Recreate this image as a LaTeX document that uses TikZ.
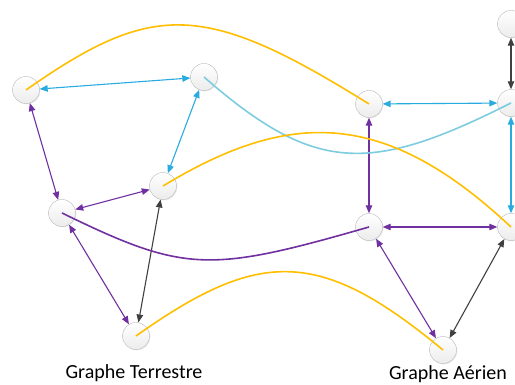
\documentclass[tikz,border=0pt]{standalone}
\usepackage{fontspec}
\setmainfont{Carlito}
\usetikzlibrary{arrows.meta,shadows}
\definecolor{ciel}{RGB}{41,171,226}
\definecolor{mauve}{RGB}{112,48,160}
\definecolor{jaune}{RGB}{255,190,0}
\definecolor{cyanclair}{RGB}{125,205,222}
\definecolor{sombre}{RGB}{64,64,64}
\begin{document}
\begin{tikzpicture}[x=1pt, y=1pt,
  sommet/.style={circle, minimum size=27pt, inner sep=0pt, draw=gray!55,
    top color=white, bottom color=gray!15,
    drop shadow={opacity=0.18, shadow xshift=0.8pt, shadow yshift=-0.8pt}},
  lien/.style={line width=1.1pt,
    {Triangle[length=8pt,width=6.5pt]}-{Triangle[length=8pt,width=6.5pt]}},
  inter/.style={line width=1.6pt},
  titre/.style={anchor=base, font=\fontsize{20}{24}\selectfont}]
\useasboundingbox (0,0) rectangle (515,385);
% graphe terrestre
\node[sommet] (a) at (26,295) {};
\node[sommet] (b) at (204,308) {};
\node[sommet] (c) at (163,199) {};
\node[sommet] (d) at (62,172) {};
\node[sommet] (e) at (136,49) {};
% graphe aerien
\node[sommet] (f) at (369,281) {};
\node[sommet] (g) at (511,282) {};
\node[sommet] (h) at (511,361) {};
\node[sommet] (i) at (369,158) {};
\node[sommet] (j) at (511,158) {};
\node[sommet] (k) at (443,35) {};

\draw[lien, ciel] (a) -- (b);
\draw[lien, ciel] (b) -- (c);
\draw[lien, mauve] (a) -- (d);
\draw[lien, mauve] (d) -- (c);
\draw[lien, mauve] (d) -- (e);
\draw[lien, sombre] (c) -- (e);

\draw[lien, ciel] (f) -- (g);
\draw[lien, sombre] (h) -- (g);
\draw[lien, mauve] (f) -- (i);
\draw[lien, ciel] (g) -- (j);
\draw[lien, mauve] (i) -- (j);
\draw[lien, mauve] (i) -- (k);
\draw[lien, sombre] (j) -- (k);

% liens entre les deux graphes
\draw[inter, jaune] (a.center) .. controls (153,384) and (204,384) .. (f.center);
\draw[inter, cyanclair] (b.center) .. controls (315,211) and (370,211) .. (g.center);
\draw[inter, jaune] (c.center) .. controls (290,276) and (385,276) .. (j.center);
\draw[inter, mauve] (d.center) .. controls (185,112) and (209,112) .. (i.center);
\draw[inter, jaune] (e.center) .. controls (260,137) and (320,137) .. (k.center);

\node[titre] (terre) at (134,6) {Graphe Terrestre};
\node[titre] (air) at (448,5) {Graphe Aérien};
\end{tikzpicture}
\end{document}
